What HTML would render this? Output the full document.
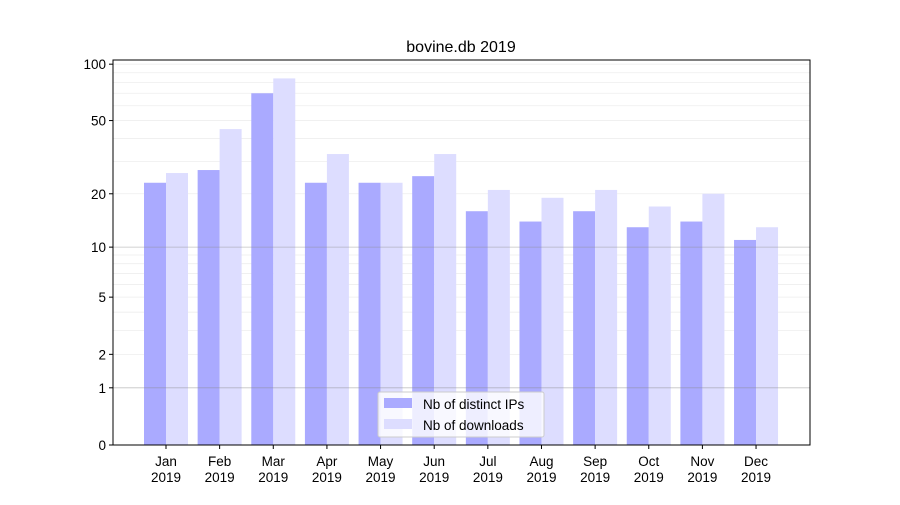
<!DOCTYPE html>
<html><head><meta charset="utf-8"><style>
body{margin:0;background:#fff;font-family:"Liberation Sans",sans-serif}
</style></head><body>
<svg id="c" width="900" height="500" xmlns="http://www.w3.org/2000/svg" font-family="Liberation Sans, sans-serif">
<rect width="900" height="500" fill="#fff"/>
<text x="461" y="52" font-size="16" text-anchor="middle">bovine.db 2019</text>
<g id="grid"></g><g id="bars"></g><g id="grid2"></g><g id="axes"></g>
<g>
<rect x="378" y="392" width="166" height="45" fill="#fff" fill-opacity="0.8" stroke="#ccc" rx="2"/>
<rect x="384" y="398" width="28" height="10" fill="#aaaaff"/>
<text x="423" y="409" font-size="13.5">Nb of distinct IPs</text>
<rect x="384" y="419" width="28" height="10" fill="#ddddff"/>
<text x="423" y="430" font-size="13.5">Nb of downloads</text>
</g>
</svg>
<script>
const months=["Jan","Feb","Mar","Apr","May","Jun","Jul","Aug","Sep","Oct","Nov","Dec"];
const ips=[23,27,70,23,23,25,16,14,16,13,14,11];
const downloads=[26,45,84,33,23,33,21,19,21,17,20,13];
const yTicks=[0,1,2,5,10,20,50,100];
const NS="http://www.w3.org/2000/svg";
const X0=113,X1=810,Y0=445,YT=60;
function y(v){return Y0-190*Math.log10(1+v);}
function xc(i){return 166+i*53.64;}
function mk(t,a,p){const e=document.createElementNS(NS,t);for(const k in a)e.setAttribute(k,a[k]);p.appendChild(e);return e;}
const grid=document.getElementById('grid'),grid2=document.getElementById('grid2'),bars=document.getElementById('bars'),axes=document.getElementById('axes');
const minors=[2,3,4,5,6,7,8,9,20,30,40,50,60,70,80,90,100];
minors.forEach(v=>{const l=mk('line',{x1:X0,x2:X1,y1:y(v),y2:y(v),stroke:'#eee','stroke-width':0.8},grid);

});
[1,10].forEach(v=>{const l=mk('line',{x1:X0,x2:X1,y1:y(v),y2:y(v),stroke:'#888','stroke-opacity':0.5,'stroke-width':0.8},grid2);

});
months.forEach((m,i)=>{
const b1=mk('rect',{x:xc(i)-22,y:y(ips[i]),width:22,height:Y0-y(ips[i]),fill:'#aaaaff'},bars);


const b2=mk('rect',{x:xc(i),y:y(downloads[i]),width:22,height:Y0-y(downloads[i]),fill:'#ddddff'},bars);


mk('line',{x1:xc(i),x2:xc(i),y1:Y0,y2:Y0+4,stroke:'#000'},axes);
const t=mk('text',{x:xc(i),y:466,'font-size':13.5,'text-anchor':'middle'},axes);


t.innerHTML='<tspan x="'+xc(i)+'">'+m+'</tspan><tspan x="'+xc(i)+'" dy="16">2019</tspan>';
});
yTicks.forEach(v=>{mk('line',{x1:X0-4,x2:X0,y1:y(v),y2:y(v),stroke:'#000'},axes);
const t=mk('text',{x:X0-7,y:y(v)+5,'font-size':13.5,'text-anchor':'end'},axes);


t.textContent=v;});
const f=mk('rect',{x:X0,y:YT,width:X1-X0,height:Y0-YT,fill:'none',stroke:'#000','stroke-width':1},axes);


</script>
</body></html>
